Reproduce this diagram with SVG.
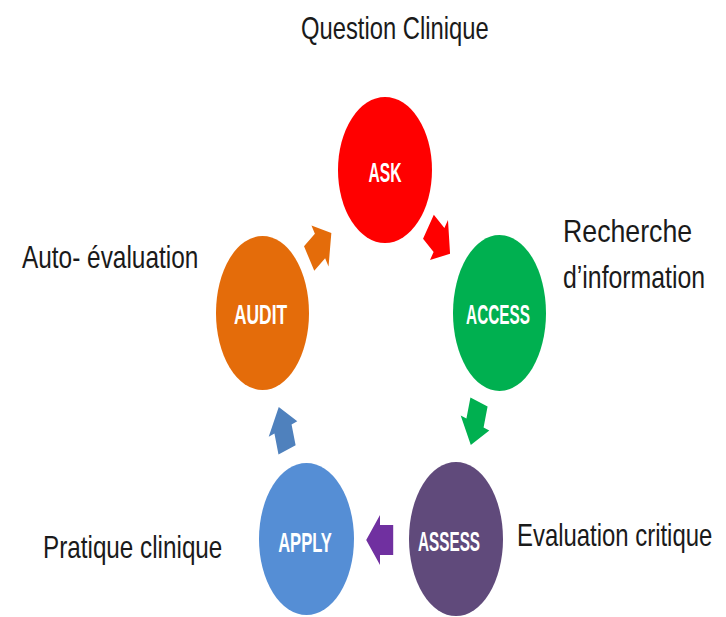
<svg xmlns="http://www.w3.org/2000/svg" width="726" height="617" viewBox="0 0 726 617">
<style>
.lbl{font-family:"Liberation Sans","Noto Sans",sans-serif;font-size:32px;fill:#1a1a1a}
.nt{font-family:"Liberation Sans","Noto Sans",sans-serif;font-size:28px;font-weight:bold;fill:#ffffff;text-anchor:middle}
</style>
<defs>
<polygon id="arr" points="-22,-15 0,-15 0,-25 23,0 0,25 0,15 -22,15"/>
</defs>
<rect width="726" height="617" fill="#ffffff"/>
<g id="connectors">
<use href="#arr" fill="#FF0000" transform="translate(439,240) scale(0.6,1) rotate(36.8)"/>
<use href="#arr" fill="#00B050" transform="translate(475,423) scale(0.6,1) rotate(107.7)"/>
<use href="#arr" fill="#7030A0" transform="translate(380,540) scale(0.6,1) rotate(180)"/>
<use href="#arr" fill="#4F81BD" transform="translate(283,429) scale(0.6,1) rotate(-107.9)"/>
<use href="#arr" fill="#E46C0A" transform="translate(320,246) scale(0.6,1) rotate(-34.7)"/>
</g>
<g id="ask">
<ellipse cx="385" cy="170" rx="47" ry="73" fill="#FF0000"/>
<text class="nt" transform="translate(385,182) scale(0.56,1)" textLength="59" lengthAdjust="spacingAndGlyphs">ASK</text>
</g>
<g id="access">
<ellipse cx="499.5" cy="313" rx="46.5" ry="78" fill="#00B050"/>
<text class="nt" transform="translate(498,324) scale(0.56,1)" textLength="114" lengthAdjust="spacingAndGlyphs">ACCESS</text>
</g>
<g id="assess">
<ellipse cx="456" cy="539" rx="47" ry="77" fill="#604A7B"/>
<text class="nt" transform="translate(449,551) scale(0.56,1)" textLength="111" lengthAdjust="spacingAndGlyphs">ASSESS</text>
</g>
<g id="apply">
<ellipse cx="306.5" cy="539" rx="47.5" ry="76" fill="#558ED5"/>
<text class="nt" transform="translate(305,552) scale(0.56,1)" textLength="96" lengthAdjust="spacingAndGlyphs">APPLY</text>
</g>
<g id="audit">
<ellipse cx="262.5" cy="313" rx="46.5" ry="77" fill="#E46C0A"/>
<text class="nt" transform="translate(260.5,324) scale(0.56,1)" textLength="95" lengthAdjust="spacingAndGlyphs">AUDIT</text>
</g>
<g id="labels">
<text class="lbl" transform="translate(301,39) scale(0.76,1)" textLength="247" lengthAdjust="spacingAndGlyphs">Question Clinique</text>
<text class="lbl" transform="translate(563,242) scale(0.76,1)" textLength="170" lengthAdjust="spacingAndGlyphs">Recherche</text>
<text class="lbl" transform="translate(563,288) scale(0.76,1)" textLength="187" lengthAdjust="spacingAndGlyphs">d’information</text>
<text class="lbl" transform="translate(22,268) scale(0.76,1)" textLength="232" lengthAdjust="spacingAndGlyphs">Auto- évaluation</text>
<text class="lbl" transform="translate(517,546) scale(0.76,1)" textLength="257" lengthAdjust="spacingAndGlyphs">Evaluation critique</text>
<text class="lbl" transform="translate(43,558) scale(0.76,1)" textLength="236" lengthAdjust="spacingAndGlyphs">Pratique clinique</text>
</g>
</svg>
